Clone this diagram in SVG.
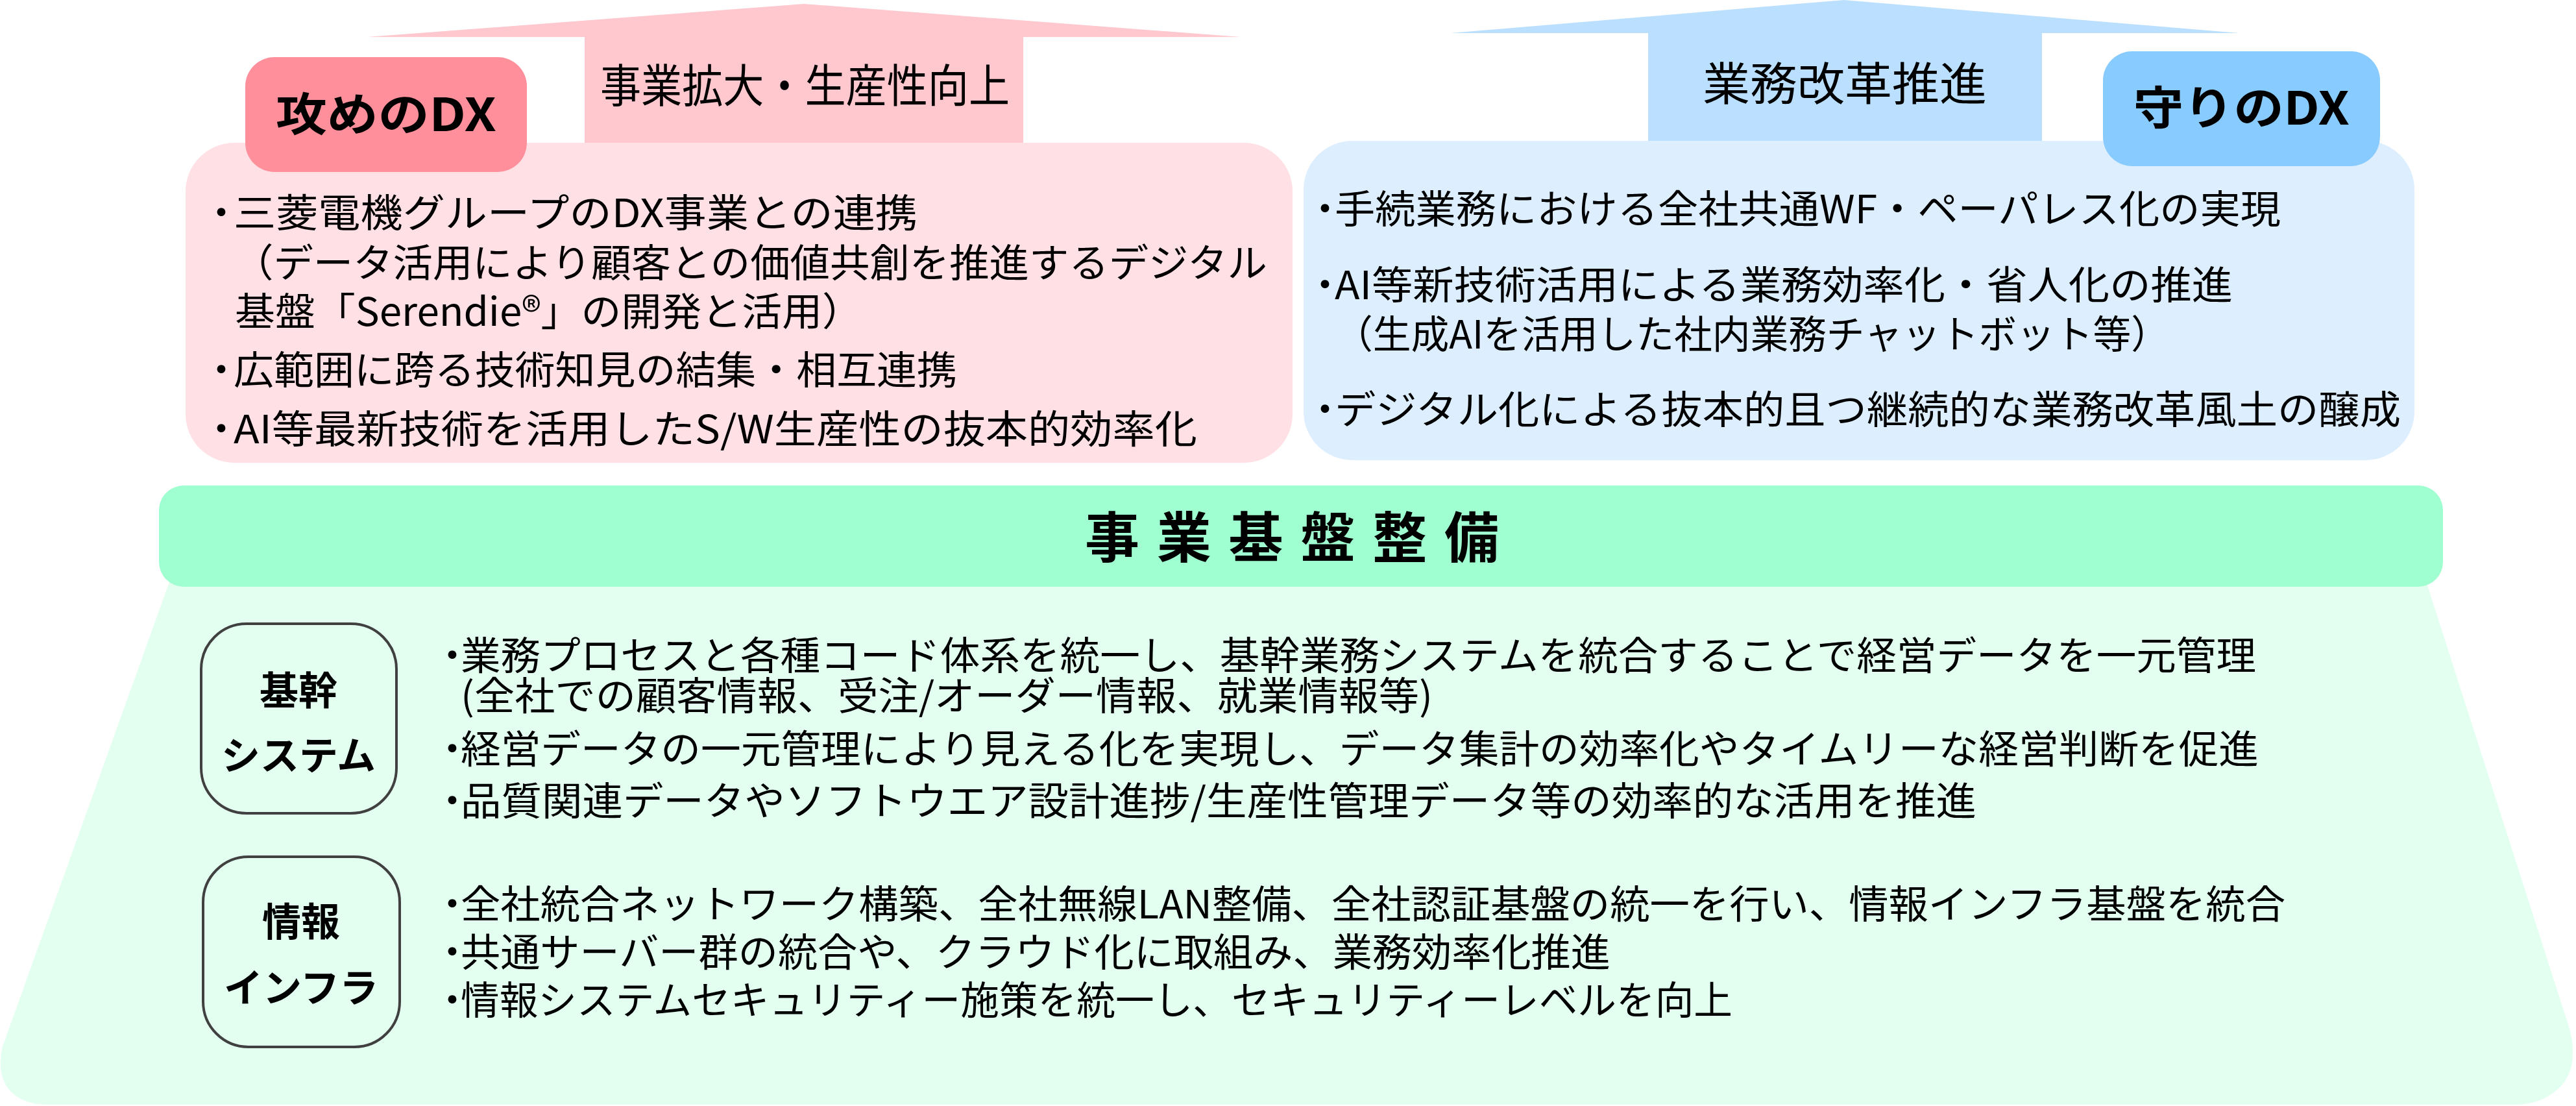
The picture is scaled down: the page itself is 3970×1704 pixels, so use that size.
<svg xmlns="http://www.w3.org/2000/svg" width="3970" height="1704" viewBox="0 0 3970 1704">
<style>
text{font-family:'Noto Sans CJK JP','Noto Sans',sans-serif;fill:#000}
.t{font-size:60px}
.title{font-size:70px}
.tag{font-size:70px;font-weight:bold}
.lbl{font-size:60px;font-weight:bold;text-anchor:middle}
.box{fill:none;stroke:#404040;stroke-width:4}
</style>
<rect width="3970" height="1704" fill="#fff"/>
<g id="arrows">
<polygon points="566,57 1239,6 1912,57 1577,57 1577,230 901,230 901,57" fill="#FFC7CE"/>
<polygon points="2236,51 2842,0 3451,51 3147,51 3147,230 2540,230 2540,51" fill="#BBE0FF"/>
</g>
<g id="node-attack-panel">
<rect x="286" y="220" width="1706" height="493" rx="75" ry="75" fill="#FFE0E4"/>
<text class="title" x="925" y="158" textLength="631" lengthAdjust="spacingAndGlyphs">事業拡大・生産性向上</text>
<text class="t" x="311" y="350">・<tspan x="360" textLength="1054" lengthAdjust="spacingAndGlyphs">三菱電機グループのDX事業との連携</tspan><tspan x="360" y="427" textLength="1593" lengthAdjust="spacingAndGlyphs">（データ活用により顧客との価値共創を推進するデジタル</tspan><tspan x="362" y="502" textLength="967" lengthAdjust="spacingAndGlyphs">基盤「Serendie®」の開発と活用）</tspan><tspan x="311" y="592">・</tspan><tspan x="360" y="592" textLength="1115" lengthAdjust="spacingAndGlyphs">広範囲に跨る技術知見の結集・相互連携</tspan><tspan x="311" y="683">・</tspan><tspan x="360" y="683" textLength="1485" lengthAdjust="spacingAndGlyphs">AI等最新技術を活用したS/W生産性の抜本的効率化</tspan></text>
</g>
<g id="node-attack-tag">
<rect x="378" y="88" width="434" height="177" rx="45" ry="45" fill="#FF8F9A"/>
<text class="tag" x="425" y="202" textLength="340" lengthAdjust="spacingAndGlyphs">攻めのDX</text>
</g>
<g id="node-defense-panel">
<rect x="2009" y="217" width="1712" height="492" rx="75" ry="75" fill="#DDEEFF"/>
<text class="title" x="2624" y="155" textLength="438" lengthAdjust="spacingAndGlyphs">業務改革推進</text>
<text class="t" x="2012" y="344">・<tspan x="2057" textLength="1458" lengthAdjust="spacingAndGlyphs">手続業務における全社共通WF・ペーパレス化の実現</tspan><tspan x="2012" y="461">・</tspan><tspan x="2057" y="461" textLength="1384" lengthAdjust="spacingAndGlyphs">AI等新技術活用による業務効率化・省人化の推進</tspan><tspan x="2057" y="537" textLength="1286" lengthAdjust="spacingAndGlyphs">（生成AIを活用した社内業務チャットボット等）</tspan><tspan x="2012" y="653">・</tspan><tspan x="2057" y="653" textLength="1643" lengthAdjust="spacingAndGlyphs">デジタル化による抜本的且つ継続的な業務改革風土の醸成</tspan></text>
</g>
<g id="node-defense-tag">
<rect x="3241" y="79" width="427" height="177" rx="45" ry="45" fill="#88CCFF"/>
<text class="tag" x="3288" y="192" textLength="333" lengthAdjust="spacingAndGlyphs">守りのDX</text>
</g>
<g id="node-foundation">
<path d="M267 880 L3734 880 L3960 1585 Q3976 1648 3942 1678 Q3915 1702 3875 1702 L75 1702 Q35 1702 15 1680 Q-6 1655 4 1612 Z" fill="#E3FFF0"/>
<rect x="245" y="748" width="3520" height="156" rx="38" ry="38" fill="#A0FFD0"/>
<text x="1672" y="859" style="font-size:84px;font-weight:bold" textLength="638" lengthAdjust="spacing">事業基盤整備</text>
</g>
<g id="node-kikan">
<rect class="box" x="310" y="961" width="301" height="292" rx="70" ry="70"/>
<text class="lbl" x="460" y="1086">基幹<tspan x="460" y="1186">システム</tspan></text>
<text class="t" x="667" y="1032">・<tspan x="710" textLength="2767" lengthAdjust="spacingAndGlyphs">業務プロセスと各種コード体系を統一し、基幹業務システムを統合することで経営データを一元管理</tspan><tspan x="710" y="1094" textLength="1498" lengthAdjust="spacingAndGlyphs">(全社での顧客情報、受注/オーダー情報、就業情報等)</tspan><tspan x="667" y="1176">・</tspan><tspan x="710" y="1176" textLength="2771" lengthAdjust="spacingAndGlyphs">経営データの一元管理により見える化を実現し、データ集計の効率化やタイムリーな経営判断を促進</tspan><tspan x="667" y="1256">・</tspan><tspan x="710" y="1256" textLength="2336" lengthAdjust="spacingAndGlyphs">品質関連データやソフトウエア設計進捗/生産性管理データ等の効率的な活用を推進</tspan></text>
</g>
<g id="node-infra">
<rect class="box" x="313" y="1320" width="303" height="293" rx="70" ry="70"/>
<text class="lbl" x="464" y="1442">情報<tspan x="464" y="1544">インフラ</tspan></text>
<text class="t" x="667" y="1415">・<tspan x="710" textLength="2812" lengthAdjust="spacingAndGlyphs">全社統合ネットワーク構築、全社無線LAN整備、全社認証基盤の統一を行い、情報インフラ基盤を統合</tspan><tspan x="667" y="1489">・</tspan><tspan x="710" y="1489" textLength="1772" lengthAdjust="spacingAndGlyphs">共通サーバー群の統合や、クラウド化に取組み、業務効率化推進</tspan><tspan x="667" y="1563">・</tspan><tspan x="710" y="1563" textLength="1960" lengthAdjust="spacingAndGlyphs">情報システムセキュリティー施策を統一し、セキュリティーレベルを向上</tspan></text>
</g>
<g id="connectors"></g>
</svg>
